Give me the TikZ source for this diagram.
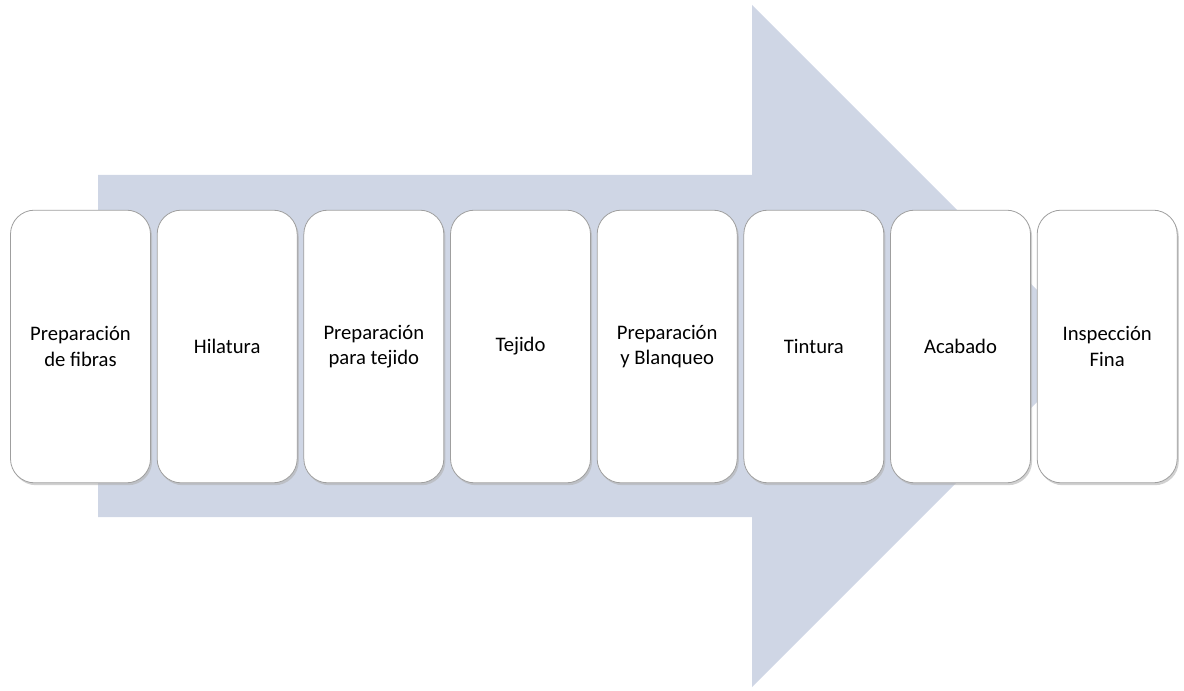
\documentclass[tikz,border=0pt]{standalone}
\usepackage{fontspec}
\setmainfont{Carlito}
\usetikzlibrary{shadows,positioning}

\definecolor{flechaazul}{RGB}{207,214,229}
\tikzset{
  paso/.style={draw=gray!75, line width=0.6pt, fill=white, rounded corners=18pt,
    minimum width=105pt, minimum height=204.5pt, inner sep=0pt,
    align=center, font=\fontsize{15.5}{19}\selectfont,
    drop shadow={shadow xshift=1.2pt, shadow yshift=-1.8pt, fill=gray!60, opacity=0.6}}
}

\begin{document}
\begin{tikzpicture}[x=0.75pt, y=-0.75pt]
%\draw [help lines, step=10](0,0) grid (1184,691);
\useasboundingbox (0,0) rectangle (1184,691);

% flecha de fondo
\fill [flechaazul] (98,175) -- (752,175) -- (752,5) -- (1093,346) -- (752,687) -- (752,517) -- (98,517) -- cycle;

\node [paso] (fibras) at (80.5,346.5) {Preparación\\de fibras};
\node [paso, right=4.4pt of fibras] (hilatura) {Hilatura};
\node [paso, right=4.4pt of hilatura] (prepteji) {Preparación\\para tejido};
\node [paso, right=4.4pt of prepteji] (tejido) {Tejido};
\node [paso, right=4.4pt of tejido] (blanqueo) {Preparación\\y Blanqueo};
\node [paso, right=4.4pt of blanqueo] (tintura) {Tintura};
\node [paso, right=4.4pt of tintura] (acabado) {Acabado};
\node [paso, right=4.4pt of acabado] (inspeccion) {Inspección\\Fina};
\end{tikzpicture}
\end{document}
